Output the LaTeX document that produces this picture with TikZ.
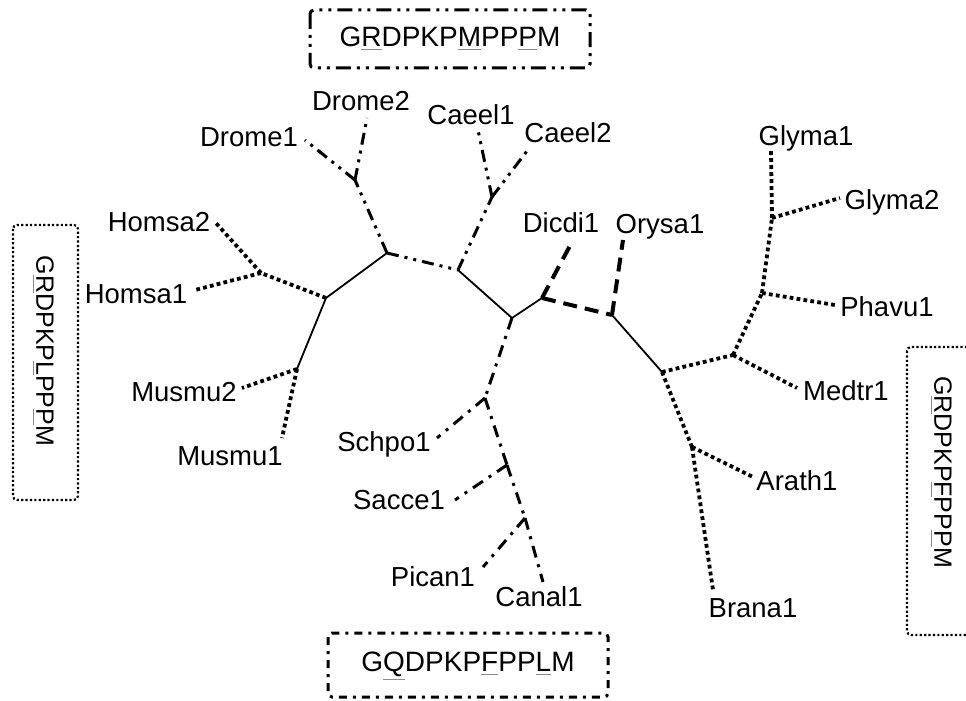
\documentclass[tikz,border=0pt]{standalone}
\usepackage{fontspec}
\setmainfont{Liberation Sans}
\usetikzlibrary{positioning}
\newcommand{\mut}[1]{{\color{black!45}\underline{\color{black}#1}}}

\begin{document}
\begin{tikzpicture}[x=0.5pt,y=-0.5pt,
  lab/.style={font=\fontsize{13.75}{16}\selectfont,inner sep=0pt,text height=9.8pt,text depth=0pt},
  seq/.style={font=\fontsize{14}{16}\selectfont,inner sep=0pt},
  vseq/.style={font=\fontsize{12.5}{15}\selectfont,inner sep=0pt,rotate=-90},
  solln/.style={line width=0.9pt},
  dotln/.style={line width=1.9pt,dash pattern=on 1.9pt off 1.6pt},
  ddotln/.style={line width=1.5pt,dash pattern=on 6pt off 3pt on 1.5pt off 3pt on 1.5pt off 3pt},
  dashln/.style={line width=2pt,dash pattern=on 7pt off 4pt},
  dotdashln/.style={line width=1.5pt,dash pattern=on 6pt off 3.5pt on 1.5pt off 3.5pt},
  boxdot/.style={line width=1.1pt,dash pattern=on 1.1pt off 1.1pt,rounded corners=2pt},
  boxddot/.style={line width=1.5pt,dash pattern=on 7.5pt off 3pt on 1.5pt off 3pt on 1.5pt off 3pt,rounded corners=2pt},
  boxdd/.style={line width=1.5pt,dash pattern=on 4pt off 3pt on 1.5pt off 3pt,rounded corners=2pt}]
  \path[use as bounding box,clip] (0,0) rectangle (966,701);

  % inner junctions
  \coordinate (L) at (326,298);
  \coordinate (hj) at (261,273);
  \coordinate (mj) at (297,369);
  \coordinate (A) at (387,253);
  \coordinate (dj) at (355,180);
  \coordinate (B) at (458,270);
  \coordinate (cj) at (492,197);
  \coordinate (C) at (512,318);
  \coordinate (D) at (542,298);
  \coordinate (E) at (612,315);
  \coordinate (F) at (662,372);
  \coordinate (G) at (733,355);
  \coordinate (H) at (762,293);
  \coordinate (I) at (772,218);
  \coordinate (aj) at (692,447);
  \coordinate (y1) at (485,398);
  \coordinate (y2) at (507,465);
  \coordinate (y3) at (525,518);

  % leaf tips
  \coordinate (t-homsa2) at (215,222);
  \coordinate (t-homsa1) at (195,290);
  \coordinate (t-musmu2) at (242,388);
  \coordinate (t-musmu1) at (282,438);
  \coordinate (t-drome1) at (305,140);
  \coordinate (t-drome2) at (367,118);
  \coordinate (t-caeel1) at (478,130);
  \coordinate (t-caeel2) at (530,147);
  \coordinate (t-dicdi1) at (572,242);
  \coordinate (t-orysa1) at (623,240);
  \coordinate (t-glyma1) at (771,150);
  \coordinate (t-glyma2) at (840,198);
  \coordinate (t-phavu1) at (835,305);
  \coordinate (t-medtr1) at (797,388);
  \coordinate (t-arath1) at (753,477);
  \coordinate (t-brana1) at (713,590);
  \coordinate (t-schpo1) at (437,438);
  \coordinate (t-sacce1) at (455,500);
  \coordinate (t-pican1) at (483,567);
  \coordinate (t-canal1) at (543,582);

  % labels
  \node[lab] (homsa2) at (159,222) {Homsa2};
  \node[lab] (homsa1) at (136,294) {Homsa1};
  \node[lab] (musmu2) at (184,392) {Musmu2};
  \node[lab] (musmu1) at (230,456) {Musmu1};
  \node[lab] (drome1) at (249,137) {Drome1};
  \node[lab] (drome2) at (361,101) {Drome2};
  \node[lab] (caeel1) at (471,115) {Caeel1};
  \node[lab] (caeel2) at (568,133) {Caeel2};
  \node[lab] (dicdi1) at (561,223) {Dicdi1};
  \node[lab] (orysa1) at (660,224) {Orysa1};
  \node[lab] (glyma1) at (806,136) {Glyma1};
  \node[lab] (glyma2) at (892,200) {Glyma2};
  \node[lab] (phavu1) at (887,307) {Phavu1};
  \node[lab] (medtr1) at (846,391) {Medtr1};
  \node[lab] (arath1) at (797,481) {Arath1};
  \node[lab] (brana1) at (753,608) {Brana1};
  \node[lab] (schpo1) at (384,442) {Schpo1};
  \node[lab] (sacce1) at (399,500) {Sacce1};
  \node[lab] (pican1) at (433,577) {Pican1};
  \node[lab] (canal1) at (539,597) {Canal1};

  % backbone
  \draw[solln] (L) -- (A);
  \draw[solln] (L) -- (mj);
  \draw[solln] (B) -- (C);
  \draw[solln] (C) -- (D);
  \draw[solln] (E) -- (F);

  % mammals
  \draw[dotln] (L) -- (hj);
  \draw[dotln] (hj) -- (t-homsa2);
  \draw[dotln] (hj) -- (t-homsa1);
  \draw[dotln] (mj) -- (t-musmu2);
  \draw[dotln] (mj) -- (t-musmu1);

  % fly and worm
  \draw[ddotln] (A) -- (B);
  \draw[ddotln] (A) -- (dj);
  \draw[ddotln] (dj) -- (t-drome1);
  \draw[ddotln] (dj) -- (t-drome2);
  \draw[ddotln] (B) -- (cj);
  \draw[ddotln] (cj) -- (t-caeel1);
  \draw[ddotln] (cj) -- (t-caeel2);

  % amoeba and rice
  \draw[dashln] (D) -- (E);
  \draw[dashln] (D) -- (t-dicdi1);
  \draw[dashln] (E) -- (t-orysa1);

  % yeasts
  \draw[dotdashln] (C) -- (y1);
  \draw[dotdashln] (y1) -- (t-schpo1);
  \draw[dotdashln] (y1) -- (y2);
  \draw[dotdashln] (y2) -- (t-sacce1);
  \draw[dotdashln] (y2) -- (y3);
  \draw[dotdashln] (y3) -- (t-pican1);
  \draw[dotdashln] (y3) -- (t-canal1);

  % dicots
  \draw[dotln] (F) -- (G);
  \draw[dotln] (G) -- (t-medtr1);
  \draw[dotln] (G) -- (H);
  \draw[dotln] (H) -- (t-phavu1);
  \draw[dotln] (H) -- (I);
  \draw[dotln] (I) -- (t-glyma1);
  \draw[dotln] (I) -- (t-glyma2);
  \draw[dotln] (F) -- (aj);
  \draw[dotln] (aj) -- (t-arath1);
  \draw[dotln] (aj) -- (t-brana1);

  % motif boxes
  \draw[boxddot] (310,10) rectangle (590,68);
  \node[seq] (topseq) at (450,39) {G\mut{R}DPKP\mut{M}PP\mut{P}M};
  \draw[boxdd] (328,633) rectangle (608,697);
  \node[seq] (botseq) at (468,666) {G\mut{Q}DPKP\mut{F}PP\mut{L}M};
  \draw[boxdot] (13,225) rectangle (78,500);
  \node[vseq] (lseq) at (43,351) {G\mut{R}DPKP\mut{L}PP\mut{P}M};
  \draw[boxdot] (907,347) rectangle (975,635);
  \node[vseq] (rseq) at (941,472) {G\mut{R}DPKP\mut{F}PP\mut{P}M};
\end{tikzpicture}
\end{document}
